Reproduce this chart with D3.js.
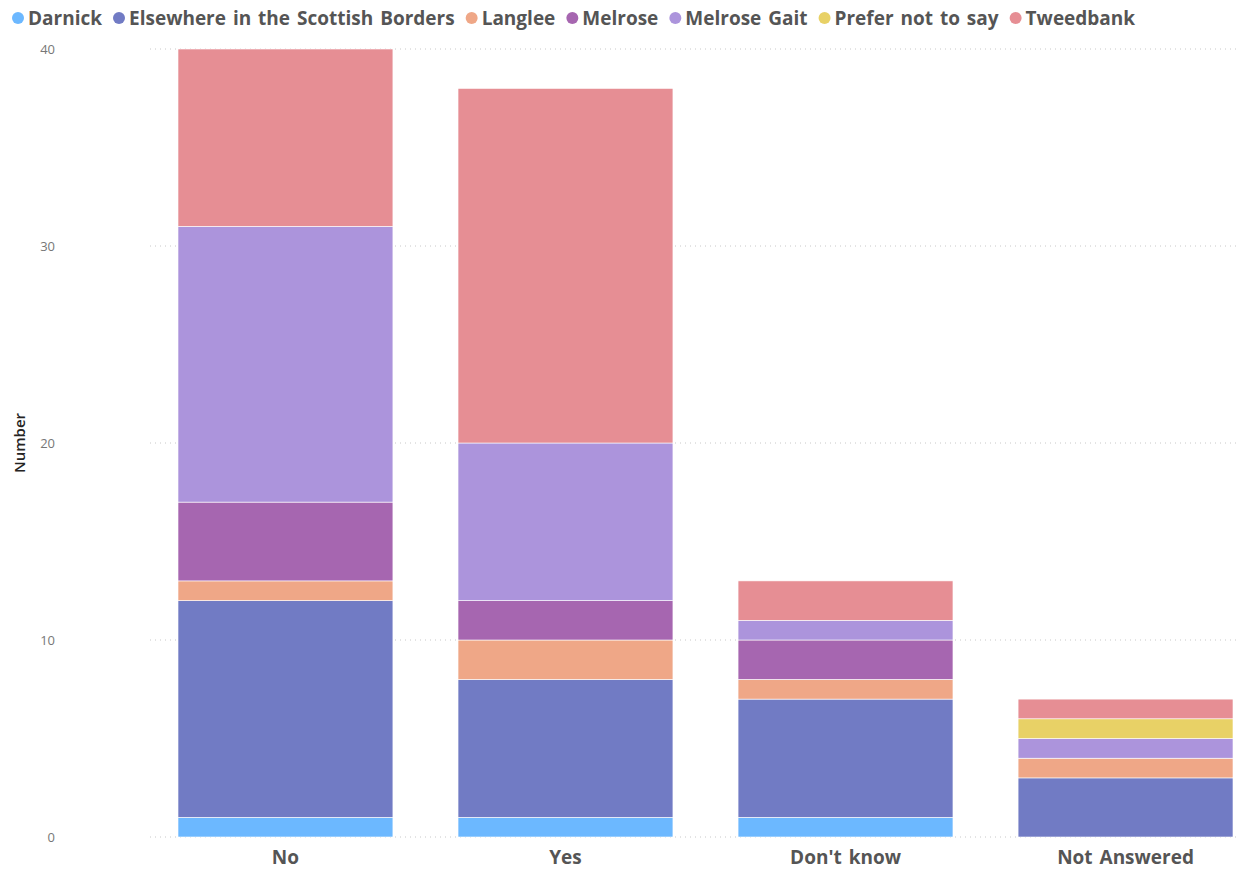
<!DOCTYPE html>
<html>
<head>
<meta charset="utf-8">
<script src="https://cdn.jsdelivr.net/npm/d3@7"></script>
<style>
  html, body { margin: 0; padding: 0; background: #fff; }
  svg { display: block; font-family: "Open Sans", "Noto Sans", sans-serif; }
</style>
</head>
<body>
<svg id="chart" width="1239" height="870"></svg>
<script>
// Response categories along the x axis
const categories = ["No", "Yes", "Don't know", "Not Answered"];

// Locations (stack order, bottom to top) and their colours
const locations = ["Darnick", "Elsewhere in the Scottish Borders", "Langlee", "Melrose", "Melrose Gait", "Prefer not to say", "Tweedbank"];
const colors = ["#6CB8FF", "#717BC4", "#EFA787", "#A666B0", "#AC94DC", "#E8D166", "#E68E94"];

// Counts per location, one value per category
const darnick   = [1, 1, 1, 0];
const elsewhere = [11, 7, 6, 3];
const langlee   = [1, 2, 1, 1];
const melrose   = [4, 2, 2, 0];
const melroseGait = [14, 8, 1, 1];
const preferNot = [0, 0, 0, 1];
const tweedbank = [9, 18, 2, 1];

const yTicks = [0, 10, 20, 30, 40];

const seriesValues = [darnick, elsewhere, langlee, melrose, melroseGait, preferNot, tweedbank];
const rows = categories.map((c, i) => {
  const r = { category: c };
  locations.forEach((loc, j) => { r[loc] = seriesValues[j][i]; });
  return r;
});

const FONT = "'Open Sans', 'Noto Sans', sans-serif";
const svg = d3.select("#chart");
const plotLeft = 150, plotRight = 1238, plotTop = 49, plotBottom = 837;

const x = d3.scaleBand()
  .domain(categories)
  .range([150, 1261])
  .paddingInner(0.2325)
  .paddingOuter(0.1);

const y = d3.scaleLinear().domain([0, 40]).range([plotBottom, plotTop]);
const color = d3.scaleOrdinal().domain(locations).range(colors);

// Dotted gridlines
svg.append("g")
  .selectAll("line")
  .data(yTicks)
  .join("line")
  .attr("x1", plotLeft).attr("x2", plotRight)
  .attr("y1", d => y(d)).attr("y2", d => y(d))
  .attr("stroke", "#c8c8c8")
  .attr("stroke-width", 1)
  .attr("stroke-dasharray", "1,4");

// Y axis tick labels
const yAxis = d3.axisLeft(y).tickValues(yTicks).tickSize(0).tickPadding(0);
const yg = svg.append("g").attr("transform", "translate(55,0)").call(yAxis);
yg.select(".domain").remove();
yg.selectAll("text")
  .attr("fill", "#777")
  .style("font-size", "13px")
  .style("font-family", FONT);

// Y axis title
svg.append("text")
  .attr("transform", `translate(25,${(plotTop + plotBottom) / 2}) rotate(-90)`)
  .attr("text-anchor", "middle")
  .attr("fill", "#252423")
  .style("font-size", "15px")
  .style("font-weight", "600")
  .style("font-family", FONT)
  .text("Number");

// Stacked bars
const stack = d3.stack().keys(locations);
const layers = stack(rows);

svg.append("g")
  .selectAll("g")
  .data(layers)
  .join("g")
  .attr("fill", d => color(d.key))
  .selectAll("rect")
  .data(d => d.filter(s => s[1] - s[0] > 0))
  .join("rect")
  .attr("x", d => x(d.data.category))
  .attr("width", x.bandwidth())
  .attr("y", d => y(d[1]))
  .attr("height", d => y(d[0]) - y(d[1]))
  .attr("stroke", "#fff")
  .attr("stroke-width", 0.6);

// X axis labels
const xAxis = d3.axisBottom(x).tickSize(0).tickPadding(0);
const xg = svg.append("g").attr("transform", "translate(0,864)").call(xAxis);
xg.select(".domain").remove();
xg.selectAll("text")
  .attr("fill", "#555")
  .attr("dy", 0)
  .style("font-size", "19px")
  .style("font-weight", "bold")
  .style("word-spacing", "2px")
  .style("font-family", FONT);

// Legend
const legend = svg.append("g").attr("transform", "translate(0,18)");
let lx = 12;
locations.forEach((loc, i) => {
  const g = legend.append("g");
  g.append("circle").attr("cx", lx + 6).attr("cy", 0).attr("r", 6).attr("fill", colors[i]);
  const t = g.append("text")
    .attr("x", lx + 16)
    .attr("y", 0)
    .attr("dy", "0.35em")
    .attr("fill", "#555")
    .style("font-size", "19px")
    .style("font-weight", "bold")
    .style("word-spacing", "2px")
    .style("font-family", FONT)
    .text(loc);
  lx += 16 + t.node().getComputedTextLength() + 11;
});
</script>
</body>
</html>
